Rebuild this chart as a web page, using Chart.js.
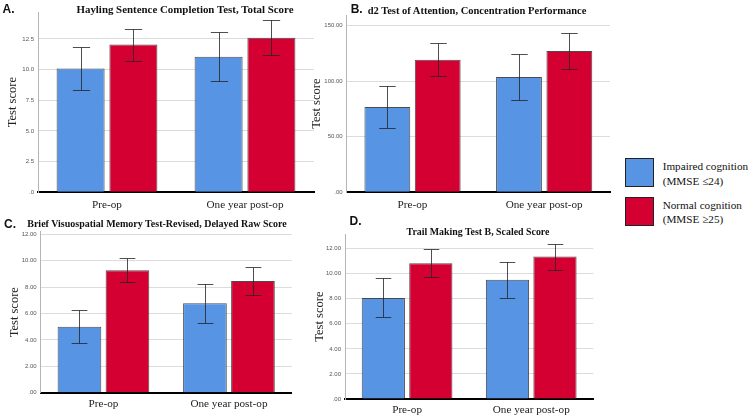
<!DOCTYPE html>
<html><head><meta charset="utf-8">
<script src="https://cdn.jsdelivr.net/npm/chart.js@4.4.0/dist/chart.umd.min.js"></script>
<style>
html,body{margin:0;padding:0;background:#fff;}
body{width:750px;height:416px;position:relative;overflow:hidden;}
canvas{position:absolute;}
.t{position:absolute;font-family:"Liberation Serif","Times New Roman",serif;font-weight:bold;font-size:10.5px;color:#111;white-space:nowrap;line-height:1;transform:translate(-50%,-50%);}
.l{position:absolute;font-family:"Liberation Sans",Arial,sans-serif;font-weight:bold;font-size:12px;color:#111;line-height:1;transform:translate(-50%,-50%);}
.box{position:absolute;width:27px;height:27px;border:1.5px solid #222;}
.lt{position:absolute;font-family:"Liberation Serif","Times New Roman",serif;font-size:11.2px;line-height:14.5px;color:#111;white-space:nowrap;}
</style></head><body>
<canvas id="cA" width="330" height="212" style="left:0px;top:0px"></canvas>
<canvas id="cB" width="320" height="212" style="left:300px;top:0px"></canvas>
<canvas id="cC" width="300" height="204" style="left:0px;top:212px"></canvas>
<canvas id="cD" width="300" height="204" style="left:300px;top:212px"></canvas>

<div class="l" style="left:8.5px;top:9px">A.</div>
<div class="t" style="left:185px;top:8.5px;font-size:10.9px">Hayling Sentence Completion Test, Total Score</div>
<div class="l" style="left:356.7px;top:9px">B.</div>
<div class="t" style="left:477px;top:11px">d2 Test of Attention, Concentration Performance</div>
<div class="l" style="left:10px;top:223.5px">C.</div>
<div class="t" style="left:157px;top:223.5px;font-size:10px">Brief Visuospatial Memory Test-Revised, Delayed Raw Score</div>
<div class="l" style="left:355.5px;top:221px">D.</div>
<div class="t" style="left:478px;top:232px;font-size:9.9px">Trail Making Test B, Scaled Score</div>

<div class="box" style="left:625px;top:157.7px;background:#5795E4"></div>
<div class="lt" style="left:662.7px;top:159.4px">Impaired cognition<br>(MMSE ≤24)</div>
<div class="box" style="left:625px;top:197.3px;background:#D40032"></div>
<div class="lt" style="left:662.7px;top:197.9px">Normal cognition<br>(MMSE ≥25)</div>

<script>
// ---- data ----
const categories = ['Pre-op', 'One year post-op'];
const seriesNames = ['Impaired cognition (MMSE ≤24)', 'Normal cognition (MMSE ≥25)'];

const hayImpaired = [10.1, 11.05];
const hayImpairedLow = [8.34, 9.10];
const hayImpairedHigh = [11.87, 13.04];
const hayNormal = [12.06, 12.6];
const hayNormalLow = [10.73, 11.16];
const hayNormalHigh = [13.33, 14.04];

const d2Impaired = [76.6, 103.6];
const d2ImpairedLow = [57.5, 83.2];
const d2ImpairedHigh = [95.8, 124.5];
const d2Normal = [119.1, 127.0];
const d2NormalLow = [104.2, 111.0];
const d2NormalHigh = [134.1, 143.4];

const bvmtImpaired = [5.0, 6.77];
const bvmtImpairedLow = [3.79, 5.3];
const bvmtImpairedHigh = [6.24, 8.26];
const bvmtNormal = [9.27, 8.46];
const bvmtNormalLow = [8.36, 7.38];
const bvmtNormalHigh = [10.18, 9.55];

const tmtImpaired = [8.06, 9.52];
const tmtImpairedLow = [6.52, 8.08];
const tmtImpairedHigh = [9.63, 10.95];
const tmtNormal = [10.83, 11.36];
const tmtNormalLow = [9.71, 10.27];
const tmtNormalHigh = [11.97, 12.39];

const blue = '#5795E4', red = '#D40032';

const errorBars = {
  id: 'errorBars',
  afterDatasetsDraw(chart) {
    const ctx = chart.ctx, ys = chart.scales.y;
    chart.data.datasets.forEach((ds, di) => {
      const meta = chart.getDatasetMeta(di);
      meta.data.forEach((bar, i) => {
        const x = Math.round(bar.x) + 0.5;
        const yl = Math.round(ys.getPixelForValue(ds.errLow[i])) + 0.5;
        const yh = Math.round(ys.getPixelForValue(ds.errHigh[i])) + 0.5;
        const w = bar.width * 0.18;
        ctx.save();
        ctx.strokeStyle = 'rgba(35,35,35,0.8)';
        ctx.lineWidth = 1;
        ctx.beginPath();
        ctx.moveTo(x, yl); ctx.lineTo(x, yh);
        ctx.moveTo(x - w, yl); ctx.lineTo(x + w, yl);
        ctx.moveTo(x - w, yh); ctx.lineTo(x + w, yh);
        ctx.stroke();
        ctx.restore();
      });
    });
  }
};

function makePanel(id, canvasRect, area, yMax, yStep, fmt, titleX, xPad, s1, s1l, s1h, s2, s2l, s2h) {
  const padTop = area.t - canvasRect.y;
  const padRight = canvasRect.x + canvasRect.w - area.r;
  const yW = area.l - canvasRect.x;
  const xH = canvasRect.y + canvasRect.h - area.b;
  new Chart(document.getElementById(id), {
    type: 'bar',
    data: {
      labels: categories,
      datasets: [
        { label: seriesNames[0], data: s1, errLow: s1l, errHigh: s1h, backgroundColor: blue,
          borderColor: 'rgba(55,55,55,0.9)', borderWidth: 1, borderSkipped: 'bottom',
          categoryPercentage: 0.765, barPercentage: 0.91 },
        { label: seriesNames[1], data: s2, errLow: s2l, errHigh: s2h, backgroundColor: red,
          borderColor: 'rgba(55,55,55,0.9)', borderWidth: 1, borderSkipped: 'bottom',
          categoryPercentage: 0.765, barPercentage: 0.91 }
      ]
    },
    options: {
      responsive: false,
      animation: false,
      devicePixelRatio: 1,
      layout: { padding: { top: padTop, right: padRight, left: 0, bottom: 0 } },
      plugins: { legend: { display: false }, tooltip: { enabled: false } },
      scales: {
        x: {
          grid: { display: false, drawTicks: false },
          border: { display: true, color: '#000', width: 2 },
          ticks: { color: '#222', padding: xPad, font: { family: '"Liberation Serif", "Times New Roman", serif', size: 11.2 } },
          afterFit(s) { s.height = xH; }
        },
        y: {
          min: 0, max: yMax,
          grid: { color: '#dcdcdc', lineWidth: 1, drawTicks: false },
          border: { display: true, color: '#b5b5b5', width: 1 },
          ticks: { stepSize: yStep, includeBounds: false, padding: 4, color: '#555',
                   font: { family: '"Liberation Sans", Arial, sans-serif', size: 6 },
                   callback: fmt },
          title: { display: true, text: 'Test score', color: '#222',
                   font: { family: '"Liberation Serif", "Times New Roman", serif', size: 12.5 },
                   padding: { top: titleX - 7.5, bottom: 0 } },
          afterFit(s) { s.width = yW; }
        }
      }
    },
    plugins: [errorBars]
  });
}

const fmt1 = v => v === 0 ? '.0' : v.toFixed(1);
const fmt2 = v => v === 0 ? '.00' : v.toFixed(2);

makePanel('cA', {x:0, y:0, w:330, h:212}, {l:38, t:12, r:314, b:192.3}, 14.7, 2.5, fmt1, 13, 6,
  hayImpaired, hayImpairedLow, hayImpairedHigh, hayNormal, hayNormalLow, hayNormalHigh);
makePanel('cB', {x:300, y:0, w:320, h:212}, {l:346.7, t:15, r:610, b:192.3}, 159.3, 50, fmt2, 16.7, 6,
  d2Impaired, d2ImpairedLow, d2ImpairedHigh, d2Normal, d2NormalLow, d2NormalHigh);
makePanel('cC', {x:0, y:212, w:300, h:204}, {l:40.7, t:231.7, r:291.7, b:392.7}, 12.2, 2, fmt2, 15, 5,
  bvmtImpaired, bvmtImpairedLow, bvmtImpairedHigh, bvmtNormal, bvmtNormalLow, bvmtNormalHigh);
makePanel('cD', {x:300, y:212, w:300, h:204}, {l:345, t:234.3, r:593.3, b:399}, 13.14, 2, fmt2, 20, 4,
  tmtImpaired, tmtImpairedLow, tmtImpairedHigh, tmtNormal, tmtNormalLow, tmtNormalHigh);
</script>
</body></html>
